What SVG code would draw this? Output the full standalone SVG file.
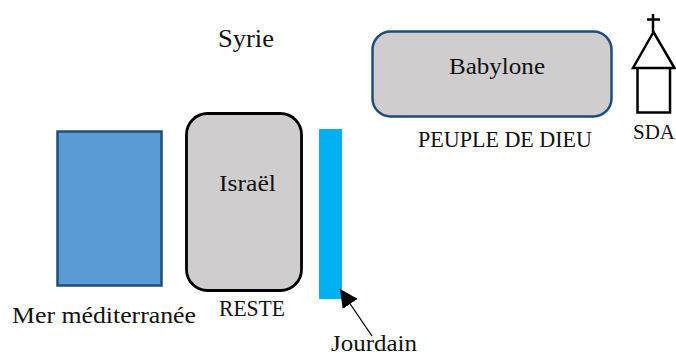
<svg xmlns="http://www.w3.org/2000/svg" width="676" height="356" viewBox="0 0 676 356">
<style>
text{font-family:"Liberation Serif","DejaVu Serif",serif;font-size:24px;fill:#111}
.grey{fill:#cfcdce}
.line{fill:none;stroke:#000;stroke-width:2.500}
</style>
<defs><marker id="ah" viewBox="0 0 10 10" refX="10" refY="5" markerWidth="18" markerHeight="18" markerUnits="userSpaceOnUse" orient="auto"><path d="M0 0L10 5L0 10Z" fill="#000"/></marker></defs>
<rect width="676" height="356" fill="#fff"/>
<g id="sea"><rect x="57.500" y="131.500" width="104" height="154" fill="#5b9bd5" stroke="#1f4e79" stroke-width="2.500"/><text x="12" y="323" textLength="184" lengthAdjust="spacingAndGlyphs">Mer méditerranée</text></g>
<g id="israel"><rect x="186.500" y="113.500" width="115" height="177" rx="21" class="grey" stroke="#000" stroke-width="2.800"/><text x="219" y="191" textLength="57" lengthAdjust="spacingAndGlyphs">Israël</text><text x="219" y="316" textLength="66" lengthAdjust="spacingAndGlyphs">RESTE</text></g>
<g id="jourdain"><rect x="319" y="129" width="23" height="170" fill="#00b0f0"/><text x="331" y="350.500" textLength="86" lengthAdjust="spacingAndGlyphs">Jourdain</text></g>
<g id="babylone"><rect x="372.500" y="31.500" width="239" height="85" rx="18" class="grey" stroke="#1f4e79" stroke-width="2.500"/><text x="449" y="74" textLength="96" lengthAdjust="spacingAndGlyphs">Babylone</text><text x="418" y="147" textLength="174" lengthAdjust="spacingAndGlyphs">PEUPLE DE DIEU</text></g>
<g id="syrie"><text x="218" y="47" textLength="56" lengthAdjust="spacingAndGlyphs" style="font-size:26px">Syrie</text></g>
<g id="sda"><path class="line" d="M653 14V32M647 19.500H660M653.500 32L633 68H674.500ZM637.500 68V112.500H670V68"/><text x="633" y="139" style="font-size:21px">SDA</text></g>
<g id="connectors"><line x1="372" y1="336" x2="340" y2="289" stroke="#000" stroke-width="1.300" marker-end="url(#ah)"/></g>
</svg>
